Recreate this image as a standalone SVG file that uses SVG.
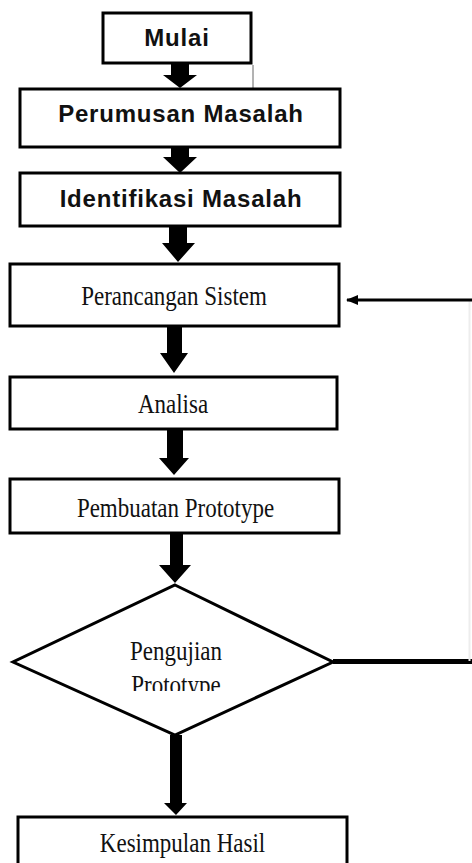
<svg xmlns="http://www.w3.org/2000/svg" width="472" height="863" viewBox="0 0 472 863">
<style>
.box{fill:#fff;stroke:#000;stroke-width:3}
.b{font-family:"Liberation Sans",Arial,sans-serif;font-weight:bold;font-size:24px;letter-spacing:0.8px;fill:#111;text-anchor:middle}
.t{font-family:"Liberation Serif","Times New Roman",serif;font-size:23px;fill:#111;text-anchor:middle}
.arr{fill:#000}
</style>
<defs>
<marker id="head" viewBox="0 0 12 10" refX="11" refY="5" markerWidth="12" markerHeight="10" markerUnits="userSpaceOnUse" orient="auto">
<path d="M0,0 L12,5 L0,10 Z" fill="#000"/>
</marker>
<clipPath id="clipD"><rect x="0" y="560" width="472" height="131"/></clipPath>
</defs>
<rect width="472" height="863" fill="#fff"/>

<g id="connectors">
<polygon class="arr" points="171,63 189,63 189,75 197,75 180,88 163,75 171,75"/>
<polygon class="arr" points="171,147 189,147 189,157 197,157 180,173 163,157 171,157"/>
<polygon class="arr" points="169,226 187,226 187,243 195,243 178,262 162,243 169,243"/>
<polygon class="arr" points="167,326 182,326 182,353 188,353 174,373 160,353 167,353"/>
<polygon class="arr" points="167,429 183,429 183,458 189,458 174,475 159,458 167,458"/>
<polygon class="arr" points="170,533 183,533 183,565 191,565 175,583 159,565 170,565"/>
<polygon class="arr" points="170,735 182,735 182,803 187,803 176,815 164,803 170,803"/>
<line x1="333" y1="661.5" x2="472" y2="661.5" stroke="#000" stroke-width="5"/>
<line x1="469.5" y1="300" x2="469.5" y2="661" stroke="#ededed" stroke-width="2"/>
<line x1="472" y1="300" x2="347" y2="300" stroke="#000" stroke-width="3" marker-end="url(#head)"/>
<line x1="253" y1="65" x2="253" y2="93" stroke="#666" stroke-width="1"/>
</g>

<g id="mulai">
<rect class="box" x="103" y="13" width="148" height="50"/>
<text class="b" x="177" y="46">Mulai</text>
</g>
<g id="perumusan">
<rect class="box" x="20" y="89" width="320" height="58"/>
<text class="b" x="181" y="122">Perumusan Masalah</text>
</g>
<g id="identifikasi">
<rect class="box" x="20" y="173" width="320" height="53"/>
<text class="b" x="181" y="207">Identifikasi Masalah</text>
</g>
<g id="perancangan">
<rect class="box" x="10" y="264" width="329" height="62"/>
<text class="t" transform="translate(174,305) scale(1,1.15)">Perancangan Sistem</text>
</g>
<g id="analisa">
<rect class="box" x="10" y="377" width="327" height="52"/>
<text class="t" transform="translate(173,413) scale(1,1.15)">Analisa</text>
</g>
<g id="pembuatan">
<rect class="box" x="10" y="479" width="329" height="54"/>
<text class="t" transform="translate(175.5,517) scale(1,1.15)">Pembuatan Prototype</text>
</g>
<g id="pengujian">
<polygon points="175,585 333,662 175,735 13,662" fill="#fff" stroke="#000" stroke-width="3" stroke-linejoin="miter"/>
<g clip-path="url(#clipD)">
<text class="t" transform="translate(176,660) scale(1,1.15)">Pengujian</text>
<text class="t" transform="translate(176,694) scale(1,1.15)">Prototype</text>
</g>
</g>
<g id="kesimpulan">
<rect class="box" x="18" y="817" width="329" height="70"/>
<text class="t" transform="translate(182.5,852) scale(1,1.15)">Kesimpulan Hasil</text>
</g>
</svg>
